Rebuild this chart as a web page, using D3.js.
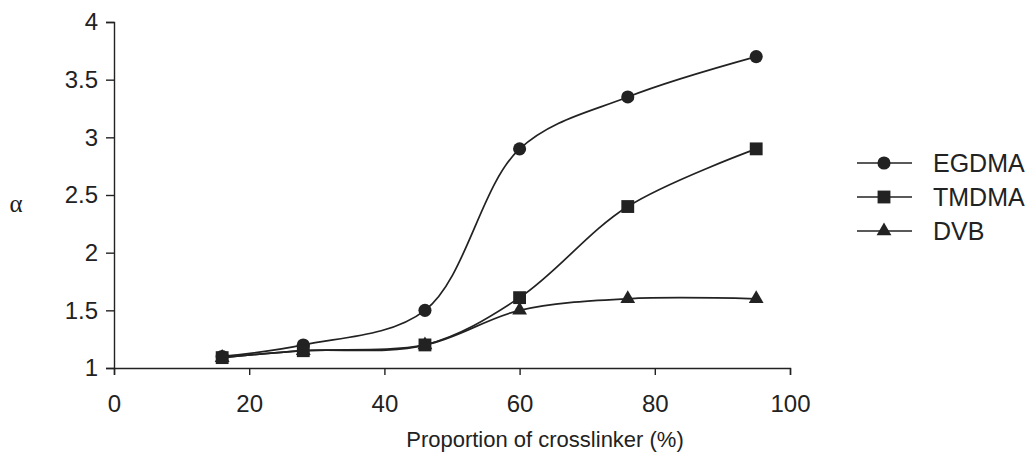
<!DOCTYPE html>
<html><head><meta charset="utf-8">
<script src="https://cdn.jsdelivr.net/npm/d3@7"></script>
<style>body{margin:0;background:#fff}svg{display:block}text{font-family:"Liberation Sans",Arial,sans-serif;fill:#222}</style>
</head><body><svg id="c" width="1032" height="452"></svg>
<script>
const xValues = [16, 28, 46, 60, 76, 95];
const egdma = [1.1, 1.2, 1.5, 2.9, 3.35, 3.7];
const tmdma = [1.09, 1.15, 1.2, 1.61, 2.4, 2.9];
const dvb = [1.09, 1.15, 1.2, 1.5, 1.6, 1.6];
const seriesNames = ["EGDMA", "TMDMA", "DVB"];
const xTicks = [0, 20, 40, 60, 80, 100];
const yTicks = [1, 1.5, 2, 2.5, 3, 3.5, 4];

const svg = d3.select("#c");
const x = d3.scaleLinear().domain([0, 100]).range([114, 790]);
const y = d3.scaleLinear().domain([1, 4]).range([368, 22]);
const ink = "#222";

const xAxis = svg.append("g").attr("transform", "translate(0,368)")
  .call(d3.axisBottom(x).tickValues(xTicks).tickSize(7).tickPadding(20).tickFormat(d3.format("d")));
const yAxis = svg.append("g").attr("transform", "translate(114,0)")
  .call(d3.axisLeft(y).tickValues(yTicks).tickSize(8).tickPadding(8).tickFormat(d => d));
[xAxis, yAxis].forEach(a => {
  a.select(".domain").attr("stroke", ink).attr("stroke-width", 1.4);
  a.selectAll(".tick line").attr("stroke", ink).attr("stroke-width", 1.4);
  a.selectAll(".tick text").attr("font-size", 24).attr("fill", ink).style("font-family", "Liberation Sans, Arial, sans-serif");
});

svg.append("text").attr("x", 545).attr("y", 447).attr("text-anchor", "middle")
  .attr("font-size", 22).text("Proportion of crosslinker (%)");
svg.append("text").attr("x", 16).attr("y", 212).attr("text-anchor", "middle")
  .attr("font-size", 25).style("font-family", "Liberation Serif, serif").text("α");

const series = [egdma, tmdma, dvb];
const line = d3.line().x(d => x(d[0])).y(d => y(d[1])).curve(d3.curveCatmullRom.alpha(0.5));
const sym = [d3.symbolCircle, d3.symbolSquare, d3.symbolTriangle];
const symSize = [135, 165, 95];

series.forEach((vals, i) => {
  const pts = xValues.map((xv, j) => [xv, vals[j]]);
  svg.append("path").datum(pts).attr("d", line).attr("fill", "none").attr("stroke", ink).attr("stroke-width", 1.7);
});
[2, 0, 1].forEach(i => {
  const pts = xValues.map((xv, j) => [xv, series[i][j]]);
  svg.append("g").selectAll("path").data(pts).join("path")
    .attr("transform", d => `translate(${x(d[0])},${y(d[1])})`)
    .attr("d", d3.symbol().type(sym[i]).size(symSize[i])).attr("fill", ink);
});

const lg = svg.append("g");
seriesNames.forEach((n, i) => {
  const yy = 163 + i * 34;
  lg.append("line").attr("x1", 857).attr("x2", 912).attr("y1", yy).attr("y2", yy).attr("stroke", ink).attr("stroke-width", 1.7);
  lg.append("path").attr("transform", `translate(884,${yy})`).attr("d", d3.symbol().type(sym[i]).size(symSize[i])).attr("fill", ink);
  lg.append("text").attr("x", 933).attr("y", yy + 9).attr("font-size", 25).text(n);
});
</script></body></html>
